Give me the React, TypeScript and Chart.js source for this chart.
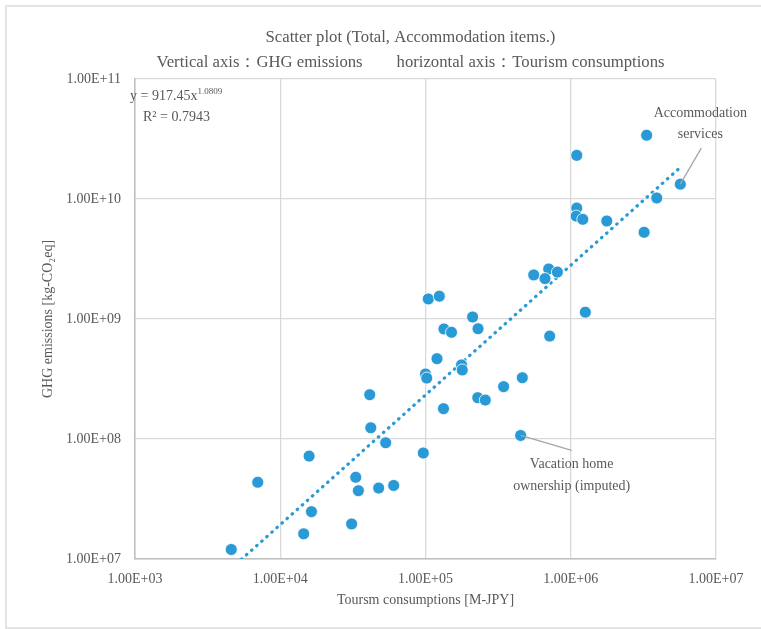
import React, { useEffect, useRef } from "react";
import { Chart, registerables } from "chart.js";

Chart.register(...registerables);

// ---- data ----
const tourismConsumption = [
  4.6e3, 7.0e3, 1.58e4, 1.64e4, 1.45e4, 3.1e4, 3.31e4, 3.45e4, 4.76e4, 6.04e4,
  4.13e4, 4.2e4, 5.32e4, 9.66e4, 1.0e5, 1.02e5, 1.045e5, 1.245e5, 1.34e5, 1.51e5,
  1.2e5, 1.33e5, 3.33e6, 1.1e6, 5.68e6, 3.91e6, 1.1e6, 1.09e6, 1.21e6, 1.77e6,
  3.2e6, 5.56e5, 7.05e5, 8.09e5, 6.65e5, 1.26e6, 7.16e5, 2.11e5, 2.3e5, 1.77e5,
  1.79e5, 4.64e5, 3.45e5, 2.29e5, 2.58e5, 4.52e5,
];
const ghgEmissions = [
  1.2e7, 4.36e7, 7.2e7, 2.48e7, 1.62e7, 1.96e7, 4.8e7, 3.71e7, 3.9e7, 4.1e7,
  2.34e8, 1.24e8, 9.3e7, 7.64e7, 3.48e8, 3.22e8, 1.47e9, 1.55e9, 8.26e8, 7.75e8,
  4.67e8, 1.79e8, 3.4e10, 2.31e10, 1.33e10, 1.02e10, 8.4e9, 7.2e9, 6.77e9, 6.56e9,
  5.28e9, 2.33e9, 2.61e9, 2.46e9, 2.17e9, 1.14e9, 7.2e8, 1.04e9, 8.3e8, 4.14e8,
  3.76e8, 3.24e8, 2.73e8, 2.21e8, 2.11e8, 1.07e8,
];
const xTickValues = [1e3, 1e4, 1e5, 1e6, 1e7];
const yTickValues = [1e7, 1e8, 1e9, 1e10, 1e11];
const trendCoefficient = 917.45;
const trendExponent = 1.0809;
const trendCoefText = "917.45";
const trendExpText = "1.0809";
const rSquaredText = "0.7943";
const titleLines = [
  "Scatter plot (Total, Accommodation items.)",
  "Vertical axis\uFF1AGHG emissions\u3000\u3000horizontal axis\uFF1ATourism consumptions",
];
const xAxisTitle = "Toursm consumptions [M-JPY]";
const yAxisTitle = "GHG emissions [kg-CO\u2082eq]";
const accommodationIndex = 24; // "Accommodation services"
const vacationIndex = 45; // "Vacation home ownership (imputed)"
const accommodationLabel = ["Accommodation", "services"];
const vacationLabel = ["Vacation home", "ownership (imputed)"];

const FONT = "'Liberation Serif', 'DejaVu Serif', serif";
const TEXT = "#595959";
const BLUE = "#2A9AD6";

function fmtSci(v: number): string {
  const e = Math.round(Math.log10(v));
  const m = v / Math.pow(10, e);
  return m.toFixed(2) + "E+" + String(e).padStart(2, "0");
}

const annotationPlugin = {
  id: "annotations",
  afterDatasetsDraw(chart: any) {
    const { ctx, chartArea, scales } = chart;
    const xs = scales.x;
    const ys = scales.y;
    ctx.save();
    ctx.fillStyle = TEXT;
    ctx.textBaseline = "middle";

    // chart title (centred on the Excel chart frame)
    ctx.textAlign = "center";
    ctx.font = `16.7px ${FONT}`;
    const tcx = (chartArea.left + chartArea.right) / 2 - 15;
    ctx.fillText(titleLines[0], tcx, 38);
    ctx.fillText(titleLines[1], tcx, 63);

    // trendline equation
    ctx.font = `14px ${FONT}`;
    ctx.textAlign = "left";
    const eqX = chartArea.left - 5;
    const eqY = chartArea.top + 17;
    const main = "y = " + trendCoefText + "x";
    ctx.fillText(main, eqX, eqY);
    const w = ctx.measureText(main).width;
    ctx.font = `9px ${FONT}`;
    ctx.fillText(trendExpText, eqX + w, eqY - 4);
    ctx.font = `14px ${FONT}`;
    ctx.fillText("R\u00B2 = " + rSquaredText, eqX + 13, eqY + 21);

    // Accommodation services
    const ax = xs.getPixelForValue(tourismConsumption[accommodationIndex]);
    const ay = ys.getPixelForValue(ghgEmissions[accommodationIndex]);
    ctx.strokeStyle = "#a6a6a6";
    ctx.lineWidth = 1.3;
    ctx.beginPath();
    ctx.moveTo(ax, ay);
    ctx.lineTo(ax + 21, ay - 36);
    ctx.stroke();
    ctx.textAlign = "center";
    ctx.fillText(accommodationLabel[0], ax + 20, ay - 71);
    ctx.fillText(accommodationLabel[1], ax + 20, ay - 50);

    // Vacation home ownership
    const vx = xs.getPixelForValue(tourismConsumption[vacationIndex]);
    const vy = ys.getPixelForValue(ghgEmissions[vacationIndex]);
    ctx.beginPath();
    ctx.moveTo(vx, vy);
    ctx.lineTo(vx + 51, vy + 15);
    ctx.stroke();
    ctx.fillText(vacationLabel[0], vx + 51, vy + 29);
    ctx.fillText(vacationLabel[1], vx + 51, vy + 51);
    ctx.restore();
  },
};

export default function App() {
  const ref = useRef<HTMLCanvasElement | null>(null);

  useEffect(() => {
    if (!ref.current) return;
    const points = tourismConsumption.map((x, i) => ({ x, y: ghgEmissions[i] }));
    const xMin = Math.min(...tourismConsumption);
    const xMax = Math.max(...tourismConsumption);
    const trend = [xMin, xMax].map((x) => ({
      x,
      y: trendCoefficient * Math.pow(x, trendExponent),
    }));

    const chart = new Chart(ref.current, {
      type: "scatter",
      data: {
        datasets: [
          {
            type: "line",
            label: "trend",
            data: trend,
            borderColor: BLUE,
            borderWidth: 3.2,
            borderDash: [0.5, 6.3],
            borderCapStyle: "round",
            pointRadius: 0,
            fill: false,
            order: 2,
          } as any,
          {
            label: "items",
            data: points,
            backgroundColor: BLUE,
            borderColor: "#ffffff",
            borderWidth: 0.8,
            pointRadius: 6,
            pointHoverRadius: 6,
            order: 1,
          },
        ],
      },
      options: {
        responsive: false,
        animation: false,
        devicePixelRatio: 1,
        layout: { padding: { left: 0, right: 45, top: 79, bottom: 0 } },
        plugins: {
          legend: { display: false },
          tooltip: { enabled: false },
          title: { display: false },
        },
        scales: {
          x: {
            type: "logarithmic",
            position: "bottom",
            min: 1e3,
            max: 1e7,
            afterBuildTicks: (s: any) => {
              s.ticks = xTickValues.map((v) => ({ value: v, major: true }));
            },
            afterFit: (s: any) => {
              s.height = 70;
            },
            grid: { color: "#d9d9d9", lineWidth: 1.3, drawTicks: false },
            border: { color: "#bfbfbf", width: 1.5 },
            ticks: {
              callback: (v: any) => fmtSci(Number(v)),
              color: TEXT,
              font: { family: FONT, size: 14 },
              padding: 12,
              maxRotation: 0,
              autoSkip: false,
            },
            title: {
              display: true,
              text: xAxisTitle,
              color: TEXT,
              font: { family: FONT, size: 14 },
              padding: { top: 0, bottom: 20 },
            },
          },
          y: {
            type: "logarithmic",
            min: 1e7,
            max: 1e11,
            afterBuildTicks: (s: any) => {
              s.ticks = yTickValues.map((v) => ({ value: v, major: true }));
            },
            afterFit: (s: any) => {
              s.width = 135;
            },
            grid: { color: "#d9d9d9", lineWidth: 1.3, drawTicks: false },
            border: { color: "#bfbfbf", width: 1.5 },
            ticks: {
              callback: (v: any) => fmtSci(Number(v)),
              color: TEXT,
              font: { family: FONT, size: 14 },
              padding: 14,
              autoSkip: false,
            },
            title: {
              display: true,
              text: yAxisTitle,
              color: TEXT,
              font: { family: FONT, size: 14 },
              padding: { top: 40, bottom: 0 },
            },
          },
        },
      },
      plugins: [annotationPlugin],
    });
    return () => chart.destroy();
  }, []);

  return (
    <div
      style={{
        position: "absolute",
        left: 0,
        top: 0,
        width: 761,
        height: 629,
        overflow: "hidden",
        background: "#ffffff",
      }}
    >
      <div
        style={{
          position: "absolute",
          left: 5,
          top: 5,
          width: 900,
          height: 620,
          border: "2px solid #e4e4e4",
        }}
      />
      <canvas
        ref={ref}
        width={761}
        height={629}
        style={{ position: "absolute", left: 0, top: 0, width: 761, height: 629 }}
      />
    </div>
  );
}
